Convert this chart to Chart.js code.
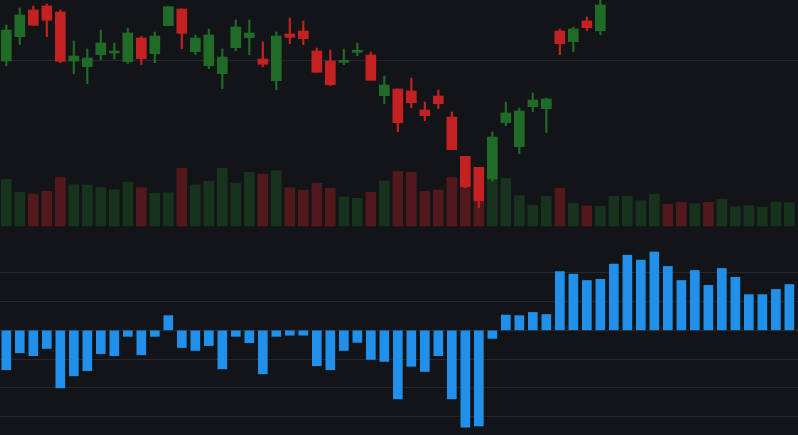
<!DOCTYPE html>
<html>
<head>
<meta charset="utf-8">
<script src="https://cdn.jsdelivr.net/npm/chart.js@4.4.1/dist/chart.umd.min.js"></script>
<style>
  html, body { margin:0; padding:0; background:#131418; }
  #wrap { width:798px; height:435px; position:relative; }
</style>
</head>
<body>
<div id="wrap"><canvas id="chart"></canvas></div>
<script>
// candles (index 0..59), prices
const opens  = [100.00,102.43,105.10,105.50,104.90,100.00, 99.43,100.63,100.80, 99.93,
                102.30,100.73,103.53,105.20,100.93, 99.53, 98.73,101.33,102.33,100.20,
                 98.03,102.70,103.00,101.00,100.00, 99.87,100.87,100.60, 96.53, 97.20,
                 97.00, 95.10, 96.50, 94.40, 90.47, 89.37, 88.20, 93.83, 91.43, 95.43,
                 95.23,103.00,101.93,104.00,103.03,106.90,108.00,109.60,110.50,112.60,
                111.50,110.60,112.00,111.20,113.00,113.60,114.00,114.50,115.40,116.30];
const highs  = [103.60,105.30,105.50,105.70,105.10,102.00,101.20,103.10,101.80,103.30,
                102.50,102.90,105.45,105.20,102.60,103.20,101.20,104.10,104.10,101.90,
                102.90,104.30,104.00,101.30,101.10,101.20,101.80,100.90, 98.50, 97.20,
                 98.30, 95.90, 97.10, 94.90, 90.47, 89.37, 92.90, 95.90, 95.30, 96.80,
                 96.30,103.20,103.40,104.40,106.20,108.60,110.30,111.20,112.90,113.10,
                111.90,112.70,112.50,113.60,114.20,114.50,115.10,116.00,116.80,117.50];
const lows   = [ 99.53,101.63,103.57,102.43, 99.83, 98.73, 97.73,100.10,100.20, 99.73,
                 99.63, 99.83,103.53,101.23,100.63, 99.23, 97.23,101.03,100.63, 99.43,
                 97.13,101.73,101.63, 98.87, 97.53, 99.63,100.53, 98.07, 95.73, 92.93,
                 95.33, 94.03, 95.23, 91.13, 87.33, 85.33, 88.00, 93.53, 90.73, 94.93,
                 92.83,100.63,100.93,103.03,102.63,106.50,107.60,109.10,110.20,110.90,
                109.80,110.30,110.60,110.90,112.40,112.80,113.50,114.10,115.00,115.90];
const closes = [103.10,104.60,103.57,104.07, 99.97,100.50,100.30,101.80,101.00,102.80,
                100.23,102.50,105.43,102.77,102.30,102.60,100.40,103.40,102.80, 99.67,
                102.50,102.37,102.23, 98.87, 97.63,100.07,101.07, 98.07, 97.60, 93.83,
                 95.83, 94.53, 95.73, 91.13, 87.43, 86.03, 92.40, 94.80, 95.00, 96.10,
                 96.20,101.73,103.20,103.33,105.60,108.20,109.90,110.80,112.40,111.30,
                110.40,112.20,111.00,113.10,113.80,114.10,114.70,115.60,116.50,117.10];

const volumes = [467000,337000,320000,347000,487000,413000,410000,383000,363000,440000,
                 383000,327000,333000,577000,410000,447000,577000,427000,537000,517000,
                 553000,383000,357000,427000,377000,290000,277000,337000,450000,547000,
                 537000,347000,360000,487000,470000,420000,470000,477000,303000,207000,
                 297000,377000,227000,200000,197000,297000,297000,253000,317000,217000,
                 237000,223000,237000,267000,193000,203000,187000,240000,233000,220000];

// lower pane histogram
const histogram = [-1.37,-0.78,-0.88,-0.63,-2.00,-1.58,-1.40,-0.81,-0.88,-0.21,
                   -0.85,-0.21, 0.51,-0.60,-0.70,-0.53,-1.34,-0.21,-0.43,-1.51,
                   -0.21,-0.17,-0.17,-1.23,-1.37,-0.70,-0.42,-1.01,-1.08,-2.38,
                   -1.25,-1.43,-0.88,-2.38,-3.36,-3.32,-0.28, 0.53, 0.51, 0.62,
                    0.55, 2.04, 1.95, 1.73, 1.77, 2.30, 2.61, 2.44, 2.72, 2.22,
                    1.73, 2.08, 1.56, 2.15, 1.84, 1.24, 1.24, 1.42, 1.59, 1.70];

const priceGrid = [100];
const histGrid = [-3,-2,-1,0,1,2];

const UP = '#1f6b27', DOWN = '#c42222';
const UP_VOL = 'rgba(31,107,39,0.35)', DOWN_VOL = 'rgba(198,34,34,0.35)';
const HIST = '#2090ea';
const GRID = '#26272c';

const isUp = i => closes[i] >= opens[i];
const dirColors = (up, down) => opens.map((_, i) => isUp(i) ? up : down);
const pts = arr => arr.map((y, i) => ({x:i, y:y}));

const hiddenAxis = (min, max, grid) => ({
  min, max,
  display: !!grid,
  border: { display:false },
  grid: { color: GRID, lineWidth: 1, drawTicks: false },
  ticks: { display: false },
  afterBuildTicks: s => { if (grid) s.ticks = grid.map(v => ({value:v})); },
  afterFit: s => { s.width = 0; }
});

new Chart(document.getElementById('chart').getContext('2d'), {
  type: 'bar',
  data: {
    datasets: [
      { label:'hist', yAxisID:'yHist', data: pts(histogram),
        backgroundColor: HIST, barThickness: 9, grouped:false, order:5 },
      { label:'volume', yAxisID:'yVol', data: pts(volumes),
        backgroundColor: dirColors(UP_VOL, DOWN_VOL), barThickness: 10, grouped:false, order:4 },
      { label:'wick', yAxisID:'yPrice', data: lows.map((l, i) => ({x:i, y:[l, highs[i]]})),
        backgroundColor: dirColors(UP, DOWN), barThickness: 1.5, grouped:false, order:2 },
      { label:'body', yAxisID:'yPrice', data: opens.map((o, i) => ({x:i, y:[o, closes[i]]})),
        backgroundColor: dirColors(UP, DOWN), barThickness: 10, minBarLength: 1, grouped:false, order:1 }
    ]
  },
  options: {
    responsive: true,
    maintainAspectRatio: false,
    animation: false,
    layout: { padding: 0 },
    plugins: { legend:{ display:false }, tooltip:{ enabled:false } },
    scales: {
      x: { type:'linear', min:-0.467, max:58.64, offset:false, display:false },
      yPrice: hiddenAxis(62.6, 106.1, priceGrid),
      yVol: hiddenAxis(-2090000, 2260000, null),
      yHist: hiddenAxis(-3.635, 11.47, histGrid)
    }
  }
});
</script>
</body>
</html>
